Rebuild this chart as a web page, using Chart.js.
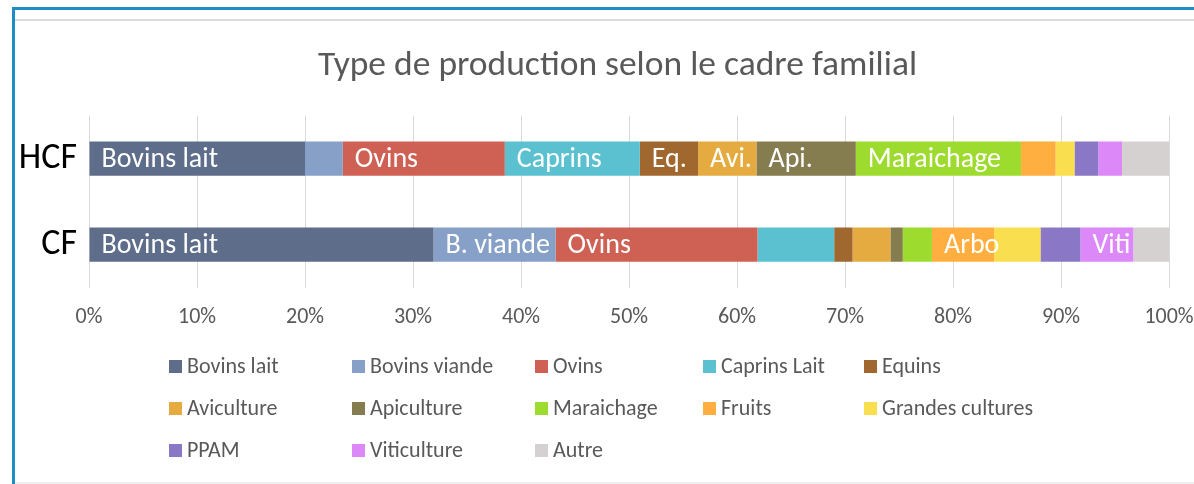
<!DOCTYPE html>
<html>
<head>
<meta charset="utf-8">
<script src="https://cdn.jsdelivr.net/npm/chart.js@4.4.1/dist/chart.umd.min.js"></script>
<style>
    body { margin: 0; background: #fff; }
    #wrap { position: relative; width: 1194px; height: 484px; }
    .line { position: absolute; pointer-events: none; }
</style>
</head>
<body>
<div id="wrap">
    <canvas id="prodChart"></canvas>
    <div class="line" style="left:12px; top:7px; width:1182px; height:3px; background:#1f8dc3;"></div>
    <div class="line" style="left:12px; top:7px; width:3px; height:477px; background:#1f8dc3;"></div>
    <div class="line" style="left:15px; top:19px; width:1179px; height:2px; background:#dcdcdc;"></div>
    <div class="line" style="left:15px; top:482px; width:1179px; height:2px; background:#f0f0f0;"></div>
</div>
<script>
const categories = ["HCF", "CF"];
const seriesNames = ["Bovins lait", "Bovins viande", "Ovins", "Caprins Lait", "Equins",
    "Aviculture", "Apiculture", "Maraichage", "Fruits", "Grandes cultures",
    "PPAM", "Viticulture", "Autre"];
// % per series, [HCF, CF]
const bovinsLait = [20.0, 31.9];
const bovinsViande = [3.5, 11.3];
const ovins = [15.0, 18.7];
const caprinsLait = [12.5, 7.1];
const equins = [5.4, 1.7];
const aviculture = [5.4, 3.5];
const apiculture = [9.2, 1.15];
const maraichage = [15.3, 2.7];
const fruits = [3.2, 5.75];
const grandesCultures = [1.75, 4.3];
const ppam = [2.2, 3.7];
const viticulture = [2.2, 4.9];
const autre = [4.35, 3.3];
// labels written inside the bars, [HCF, CF]
const barLabels = [["Bovins lait", "Bovins lait"], ["", "B. viande"], ["Ovins", "Ovins"],
    ["Caprins", ""], ["Eq.", ""], ["Avi.", ""], ["Api.", ""], ["Maraichage", ""],
    ["", "Arbo"], ["", ""], ["", ""], ["", "Viti"], ["", ""]];
const tickValues = [0, 10, 20, 30, 40, 50, 60, 70, 80, 90, 100];

const colors = ["#5e6d8a", "#86a0c8", "#cf6154", "#5bc1d0", "#a0672f", "#e5ab40",
    "#857d50", "#9edb2f", "#ffae3f", "#f9df4f", "#8a78c6", "#dd88f8", "#d5d1d1"];
const FONT = "Carlito, Lato, sans-serif";

document.addEventListener("DOMContentLoaded", function () {
    const ctx = document.getElementById('prodChart').getContext('2d');
    const values = [bovinsLait, bovinsViande, ovins, caprinsLait, equins, aviculture,
        apiculture, maraichage, fruits, grandesCultures, ppam, viticulture, autre];

    const datasets = seriesNames.map(function (name, i) {
        return {
            label: name,
            data: values[i],
            backgroundColor: colors[i],
            borderWidth: 0,
            barPercentage: 0.4,
            categoryPercentage: 1.0
        };
    });

    // white text at the base of each segment
    const barText = {
        id: 'barText',
        afterDatasetsDraw(chart) {
            const c = chart.ctx;
            c.save();
            c.fillStyle = '#ffffff';
            c.font = '28px ' + FONT;
            c.textAlign = 'left';
            c.textBaseline = 'middle';
            chart.data.datasets.forEach(function (ds, i) {
                chart.getDatasetMeta(i).data.forEach(function (bar, j) {
                    const txt = barLabels[i][j];
                    if (txt) c.fillText(txt, bar.base + 12, bar.y + 1);
                });
            });
            c.restore();
        }
    };

    // excel style legend: 5 columns, 3 rows
    const gridLegend = {
        id: 'gridLegend',
        afterDraw(chart) {
            const c = chart.ctx;
            const colX = [169, 352, 535, 703, 864];
            const rowY = [366, 408, 450];
            c.save();
            c.font = '22px ' + FONT;
            c.textBaseline = 'middle';
            c.textAlign = 'left';
            seriesNames.forEach(function (name, i) {
                const x = colX[i % 5];
                const y = rowY[Math.floor(i / 5)];
                c.fillStyle = colors[i];
                c.fillRect(x, y - 6, 13, 13);
                c.fillStyle = '#595959';
                c.fillText(name, x + 18, y + 1);
            });
            c.restore();
        }
    };

    // the category labels stick out left of the narrow y axis box: widen its clip area
    const unclipY = {
        id: 'unclipY',
        afterLayout(chart) {
            chart.scales.y.left = 0;
        }
    };

    new Chart(ctx, {
        type: 'bar',
        data: { labels: categories, datasets: datasets },
        plugins: [unclipY, barText, gridLegend],
        options: {
            indexAxis: 'y',
            responsive: true,
            maintainAspectRatio: false,
            animation: false,
            layout: { padding: { left: 66, right: 25, top: 0, bottom: 136 } },
            plugins: {
                legend: { display: false },
                tooltip: { enabled: false },
                title: {
                    display: true,
                    text: 'Type de production selon le cadre familial',
                    color: '#595959',
                    font: { family: FONT, size: 35.5, weight: 'normal' },
                    padding: { top: 45, bottom: 28 }
                }
            },
            scales: {
                x: {
                    stacked: true,
                    min: 0,
                    max: 100,
                    afterBuildTicks: function (axis) {
                        axis.ticks = tickValues.map(function (v) { return { value: v }; });
                    },
                    afterFit: function (axis) {
                        axis.paddingLeft = 0;
                        axis.paddingRight = 0;
                    },
                    grid: { color: '#d9d9d9', drawTicks: false },
                    border: { display: false },
                    ticks: {
                        color: '#595959',
                        font: { family: FONT, size: 22 },
                        padding: 17,
                        callback: function (v) { return v + '%'; }
                    }
                },
                y: {
                    stacked: true,
                    grid: { display: false, drawTicks: false },
                    border: { display: false },
                    afterFit: function (axis) {
                        axis.width = 23;
                        axis.paddingTop = 0;
                        axis.paddingBottom = 0;
                    },
                    ticks: {
                        color: '#000000',
                        font: { family: FONT, size: 36 },
                        padding: 12
                    }
                }
            }
        }
    });
});
</script>
</body>
</html>
